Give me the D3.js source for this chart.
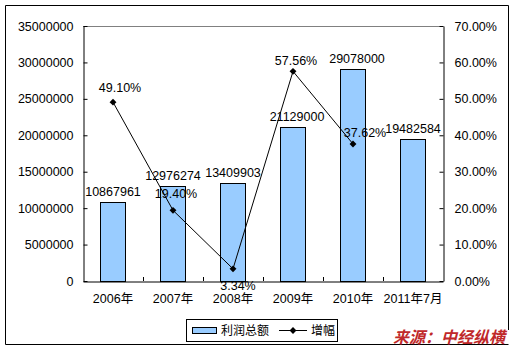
<!DOCTYPE html>
<html>
<head>
<meta charset="utf-8">
<script src="https://cdn.jsdelivr.net/npm/d3@7"></script>
<style>
  body { margin: 0; background: #fff; }
  svg { display: block; }
</style>
</head>
<body>
<div id="mainDiv"></div>
<script>
const years = ["2006年", "2007年", "2008年", "2009年", "2010年", "2011年7月"];
const profitTotals = [10867961, 12976274, 13409903, 21129000, 29078000, 19482584];
const growthRates = [0.4910, 0.1940, 0.0334, 0.5756, 0.3762, null];
const leftTicks = [0, 5000000, 10000000, 15000000, 20000000, 25000000, 30000000, 35000000];
const rightTicks = [0, 0.1, 0.2, 0.3, 0.4, 0.5, 0.6, 0.7];

const chartSize = {
  width: 517,
  height: 351,
  margin: { top: 26, right: 74, bottom: 70, left: 83 },
};

const labelFont = "Arial, 'Liberation Sans', 'Noto Sans CJK SC', sans-serif";
const fontSize = 12.5;

const svg = d3.select("#mainDiv")
  .append("svg")
  .attr("width", chartSize.width)
  .attr("height", chartSize.height)
  .attr("font-family", labelFont)
  .attr("font-size", fontSize);

// outer frame
svg.append("path")
  .attr("d", "M5.5,344.5 L5.5,5.5 L508.5,5.5 L508.5,330")
  .attr("fill", "none")
  .attr("stroke", "#000");
svg.append("line")
  .attr("x1", 5.5).attr("x2", 508.5)
  .attr("y1", 344.5).attr("y2", 344.5)
  .attr("stroke", "#000");

const plotBottom = chartSize.height - chartSize.margin.bottom;
const plotRight = chartSize.width - chartSize.margin.right;

let x = d3.scaleBand()
  .domain(d3.range(years.length))
  .range([chartSize.margin.left, plotRight]);

let bar = d3.scaleBand()
  .domain(d3.range(years.length))
  .range([chartSize.margin.left, plotRight])
  .paddingInner(0.58)
  .paddingOuter(0.29);

let yLeft = d3.scaleLinear()
  .domain([0, 35000000])
  .range([plotBottom, chartSize.margin.top]);

let yRight = d3.scaleLinear()
  .domain([0, 0.7])
  .range([plotBottom, chartSize.margin.top]);

// top border of plot area
svg.append("line")
  .attr("x1", chartSize.margin.left).attr("x2", plotRight)
  .attr("y1", chartSize.margin.top + 0.5).attr("y2", chartSize.margin.top + 0.5)
  .attr("stroke", "#808080");

// bars
svg.append("g")
  .selectAll("rect")
  .data(profitTotals)
  .join("rect")
  .attr("x", (d, i) => Math.round(bar(i)) + 0.5)
  .attr("y", d => Math.round(yLeft(d)) + 0.5)
  .attr("width", Math.round(bar.bandwidth()))
  .attr("height", d => Math.round(yLeft(0)) - Math.round(yLeft(d)))
  .attr("fill", "#99ccff")
  .attr("stroke", "#000");

// axes
let leftAxis = d3.axisLeft(yLeft)
  .tickValues(leftTicks)
  .tickFormat(d => d)
  .tickSize(-4)
  .tickPadding(10);

let rightAxis = d3.axisRight(yRight)
  .tickValues(rightTicks)
  .tickFormat(d => (d * 100).toFixed(2) + "%")
  .tickSize(-4)
  .tickPadding(11);

let bottomAxis = d3.axisBottom(x)
  .tickValues([])
  .tickSizeOuter(0);

function styleAxis(g) {
  g.select(".domain").attr("stroke", "#000");
  g.selectAll(".tick line").attr("stroke", "#000");
  g.selectAll(".tick text")
    .attr("fill", "#000")
    .attr("font-family", labelFont)
    .attr("font-size", fontSize);
}

svg.append("g")
  .attr("transform", `translate(${chartSize.margin.left + 0.5},0)`)
  .call(leftAxis.tickSizeOuter(0))
  .call(styleAxis);

svg.append("g")
  .attr("transform", `translate(${plotRight + 0.5},0)`)
  .call(rightAxis.tickSizeOuter(0))
  .call(styleAxis);

svg.append("g")
  .attr("transform", `translate(0,${plotBottom + 0.5})`)
  .call(bottomAxis)
  .call(styleAxis);

// category tick marks between groups
svg.append("g")
  .selectAll("line")
  .data(d3.range(1, years.length))
  .join("line")
  .attr("x1", i => Math.round(x(i)) + 0.5)
  .attr("x2", i => Math.round(x(i)) + 0.5)
  .attr("y1", plotBottom - 4)
  .attr("y2", plotBottom)
  .attr("stroke", "#000");

// category labels
svg.append("g")
  .selectAll("text")
  .data(years)
  .join("text")
  .attr("x", (d, i) => x(i) + x.bandwidth() / 2)
  .attr("y", plotBottom + 22)
  .attr("text-anchor", "middle")
  .text(d => d);

// bar labels
svg.append("g")
  .selectAll("text")
  .data(profitTotals)
  .join("text")
  .attr("x", (d, i) => x(i) + x.bandwidth() / 2 + (i == 3 ? 4 : i == 4 ? 4 : 0))
  .attr("y", d => yLeft(d) - 6)
  .attr("text-anchor", "middle")
  .text(d => d);

// growth line
let growthPoints = growthRates
  .map((d, i) => ({ i, d }))
  .filter(p => p.d != null);

let line = d3.line()
  .x(p => x(p.i) + x.bandwidth() / 2)
  .y(p => yRight(p.d));

svg.append("path")
  .datum(growthPoints)
  .attr("d", line)
  .attr("fill", "none")
  .attr("stroke", "#000")
  .attr("stroke-width", 1);

svg.append("g")
  .selectAll("path")
  .data(growthPoints)
  .join("path")
  .attr("transform", p => `translate(${x(p.i) + x.bandwidth() / 2},${yRight(p.d)})`)
  .attr("d", d3.symbol(d3.symbolDiamond2, 30))
  .attr("fill", "#000");

// growth labels
const lineLabelOffset = [[7, -10], [3, -12], [5, 21], [3, -6], [12, -7]];

svg.append("g")
  .selectAll("text")
  .data(growthPoints)
  .join("text")
  .attr("x", p => x(p.i) + x.bandwidth() / 2 + lineLabelOffset[p.i][0])
  .attr("y", p => yRight(p.d) + lineLabelOffset[p.i][1])
  .attr("text-anchor", "middle")
  .text(p => (p.d * 100).toFixed(2) + "%");

// legend
const legend = svg.append("g");
legend.append("rect")
  .attr("x", 186.5).attr("y", 319.5)
  .attr("width", 151).attr("height", 22)
  .attr("fill", "#fff")
  .attr("stroke", "#000");
legend.append("rect")
  .attr("x", 192.5).attr("y", 327.5)
  .attr("width", 24).attr("height", 6)
  .attr("fill", "#99ccff")
  .attr("stroke", "#000");
legend.append("text")
  .attr("x", 221).attr("y", 335)
  .attr("font-family", "'Noto Sans CJK SC', sans-serif")
  .attr("font-size", 12)
  .attr("fill", "#000")
  .text("利润总额");
legend.append("line")
  .attr("x1", 279).attr("x2", 307)
  .attr("y1", 330.5).attr("y2", 330.5)
  .attr("stroke", "#000");
legend.append("path")
  .attr("transform", "translate(293,330.5)")
  .attr("d", d3.symbol(d3.symbolDiamond2, 30))
  .attr("fill", "#000");
legend.append("text")
  .attr("x", 311).attr("y", 335)
  .attr("font-family", "'Noto Sans CJK SC', sans-serif")
  .attr("font-size", 12)
  .attr("fill", "#000")
  .text("增幅");

// source note
svg.append("text")
  .attr("x", 393)
  .attr("y", 343)
  .attr("font-family", "'Noto Sans CJK SC', sans-serif")
  .attr("font-size", 16)
  .attr("font-weight", "bold")
  .attr("font-style", "italic")
  .attr("fill", "#c0282a")
  .text("来源：中经纵横");
</script>
</body>
</html>
